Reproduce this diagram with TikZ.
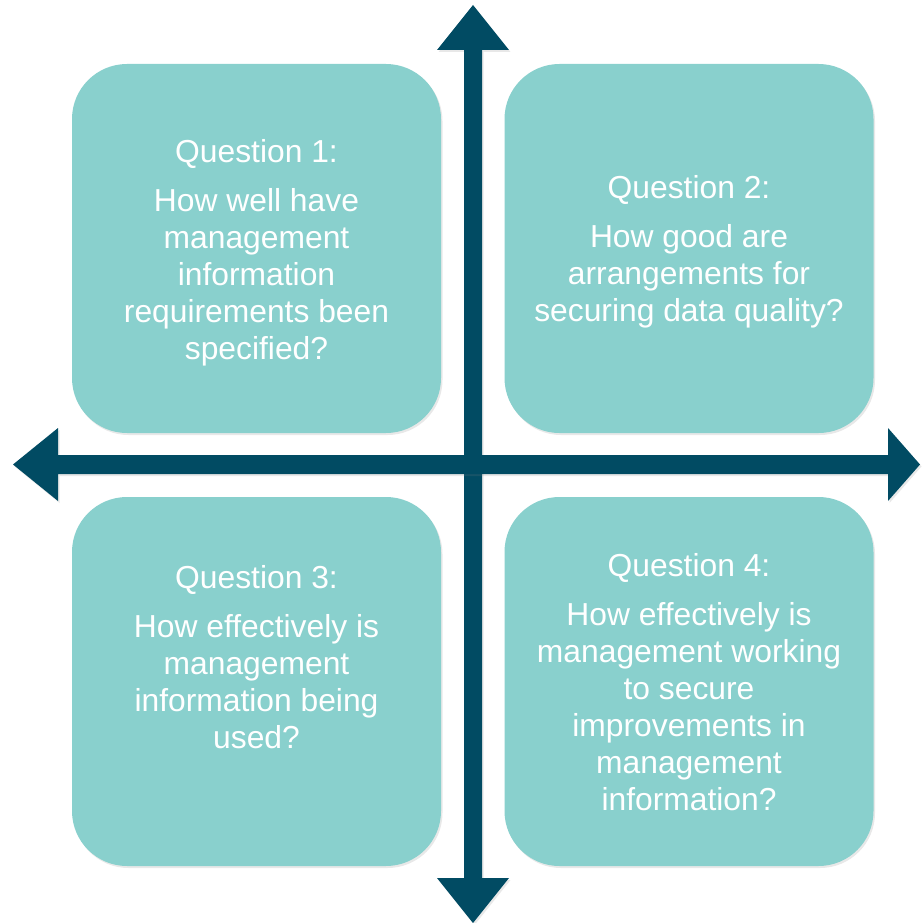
\documentclass[tikz,border=0pt]{standalone}
\usepackage{fontspec}
\setmainfont{Liberation Sans}
\usetikzlibrary{shadows}
\definecolor{boxteal}{HTML}{89D0CD}
\definecolor{arrowblue}{HTML}{014B63}
\tikzset{
  qbox/.style={fill=boxteal, draw=none, rounded corners=55pt, minimum width=369pt, minimum height=369pt,
    drop shadow={opacity=0.18, shadow xshift=1.5pt, shadow yshift=-2pt}},
  qtext/.style={text=white, align=center, font=\fontsize{31.8pt}{37pt}\selectfont, inner sep=0pt},
  axis/.style={fill=arrowblue, draw=none, drop shadow={opacity=0.18, shadow xshift=1.5pt, shadow yshift=-2pt}}
}
\begin{document}
\begin{tikzpicture}[x=1pt,y=-1pt]
\useasboundingbox (0,0) rectangle (921,923);
% boxes
\node[qbox] (b1) at (256.5,248.5) {};
\node[qbox] (b2) at (689,248.5) {};
\node[qbox] (b3) at (256.5,681.5) {};
\node[qbox] (b4) at (689,681.5) {};
% axes
\fill[axis] (464,50) -- (437,50) -- (473,5) -- (509,50) -- (482,50) -- (482,878) -- (509,878) -- (473,923) -- (437,878) -- (464,878) -- cycle;
\fill[axis] (58,455) -- (58,428) -- (13,464.5) -- (58,501) -- (58,474) -- (888,474) -- (888,501) -- (920,464.5) -- (888,428) -- (888,455) -- cycle;
% texts
\node[qtext] (t1) at (256.5,253) {Question 1:\\[12pt]How well have\\management\\information\\requirements been\\specified?};
\node[qtext] (t2) at (689,252) {Question 2:\\[12pt]How good are\\arrangements for\\securing data quality?};
\node[qtext] (t3) at (256.5,657) {Question 3:\\[12pt]How effectively is\\management\\information being\\used?};
\node[qtext] (t4) at (689,682) {Question 4:\\[12pt]How effectively is\\management working\\to secure\\improvements in\\management\\information?};
\end{tikzpicture}
\end{document}
